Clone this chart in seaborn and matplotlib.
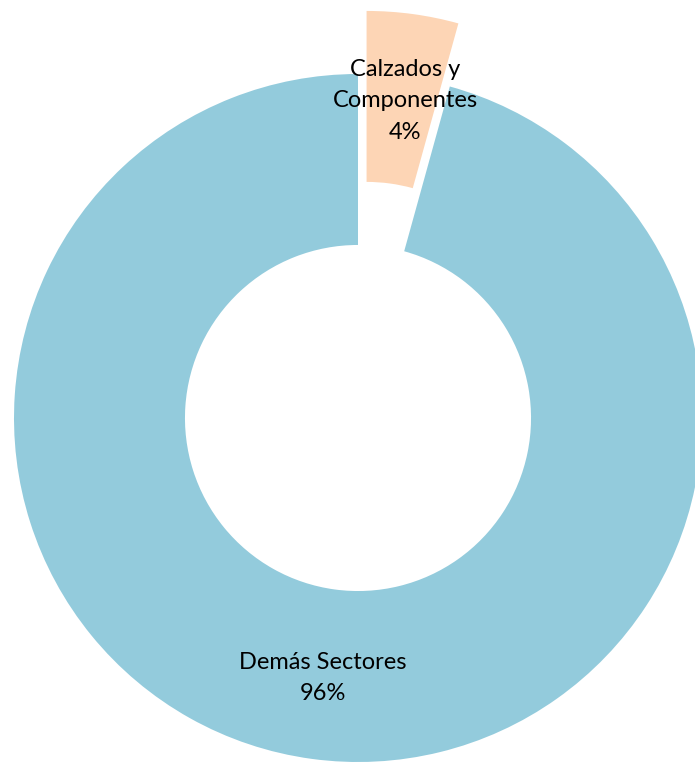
import matplotlib
matplotlib.use("Agg")
import matplotlib.pyplot as plt
import seaborn as sns

# data
sectors = ["Calzados y\nComponentes", "Demás Sectores"]
shares = [4.3, 95.7]
colors = ["#FDD5B5", "#93CBDC"]
explode = [0.185, 0.0]

# label centres (data units, radius = 1)
label_pos = [(0.137, 0.922), (-0.102, -0.756)]

sns.set_theme(style="white")
plt.rcParams["font.family"] = ["Lato", "DejaVu Sans"]

fig = plt.figure(figsize=(6.95, 7.62), dpi=100)
ax = fig.add_axes([0, 0, 1, 1])

ax.pie(shares, colors=colors, explode=explode, startangle=90,
       counterclock=False, radius=1.0,
       wedgeprops=dict(width=0.497, linewidth=0))

for name, val, (x, y) in zip(sectors, shares, label_pos):
    ax.text(x, y, f"{name}\n{val:.0f}%", ha="center", va="center",
            fontsize=17, color="black", linespacing=1.62)

ax.set_aspect("auto")
ax.set_xlim(-358 / 344, 337 / 344)
ax.set_ylim(-1.0, 418 / 344)
ax.axis("off")

fig.savefig("out.png", dpi=100)
